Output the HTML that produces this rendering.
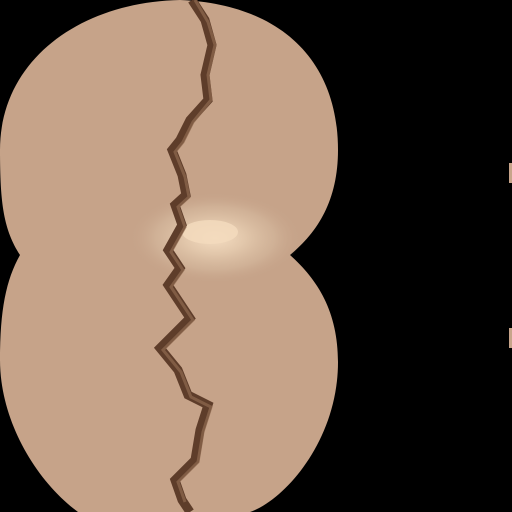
<!DOCTYPE html>
<html><head><meta charset="utf-8"><style>
html,body{margin:0;padding:0;background:#000;width:512px;height:512px;overflow:hidden}
</style></head><body>
<svg width="512" height="512" viewBox="0 0 512 512" xmlns="http://www.w3.org/2000/svg">
<defs>
<radialGradient id="glow" cx="0.5" cy="0.5" r="0.5">
<stop offset="0" stop-color="#f4dcc0"/>
<stop offset="0.35" stop-color="#e2c7ab"/>
<stop offset="0.7" stop-color="#d4b79c" stop-opacity="0.7"/>
<stop offset="1" stop-color="#c8a68c" stop-opacity="0"/>
</radialGradient>
</defs>
<rect width="512" height="512" fill="#000"/>
<path fill="#c6a389" d="M20,255 C4,230 0,205 0,150 C0,60 80,2 180,0 C280,4 338,60 338,150 C338,200 318,232 290,255 C318,280 338,312 338,362 C338,440 285,500 250,512 L78,512 C35,480 0,420 0,360 C0,310 6,280 20,255 Z"/>
<ellipse cx="215" cy="238" rx="85" ry="45" fill="url(#glow)"/>
<ellipse cx="210" cy="232" rx="28" ry="12" fill="#f3dbbd" opacity="0.85"/>
<path d="M192,0 L205,20 L212,45 L205,75 L208,100 L190,120 L180,140 L172,150 L182,175 L186,195 L175,205 L182,225 L168,250 L180,268 L168,285 L190,318 L160,348 L178,370 L188,395 L208,405 L200,430 L195,460 L175,480 L182,500 L190,512" fill="none" stroke="#5e3d2a" stroke-width="9" stroke-linejoin="miter"/>
<path d="M195,0 L208,22 L215,45 L208,75 L211,100 L193,122 L183,142 L175,152 L185,177 L189,197 L178,207 L185,227 L171,252 L183,270 L171,287 L193,320 L163,350 L181,372 L191,397 L211,407 L203,432 L198,462 L178,482 L185,502" fill="none" stroke="#8f6a50" stroke-width="3" opacity="0.7"/>
<rect x="509" y="163" width="3" height="20" fill="#c7a48a"/>
<rect x="509" y="328" width="3" height="20" fill="#c7a48a"/>
</svg>
</body></html>
